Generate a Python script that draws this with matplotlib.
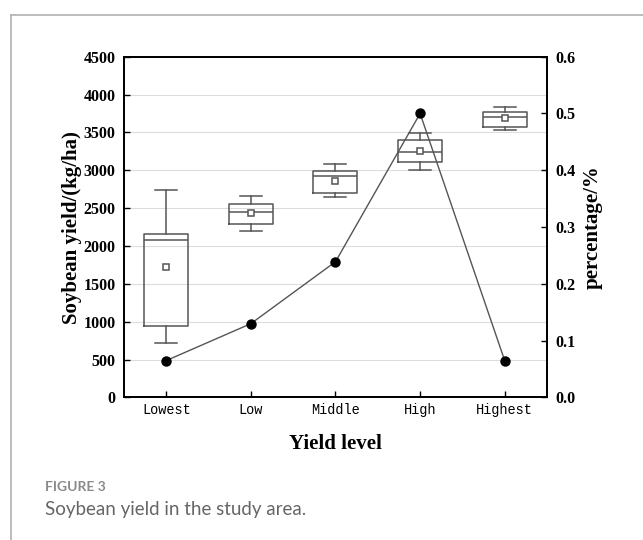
"""Soybean yield box plot with yield-level share line."""

import matplotlib
matplotlib.use("Agg")
import matplotlib.pyplot as plt
from matplotlib.lines import Line2D

# yield levels and box statistics (kg/ha)
levels = ["Lowest", "Low", "Middle", "High", "Highest"]
whisker_low = [715, 2205, 2650, 3010, 3535]
q1 = [950, 2290, 2700, 3105, 3575]
median = [2080, 2445, 2920, 3240, 3700]
q3 = [2155, 2560, 2995, 3395, 3775]
whisker_high = [2740, 2660, 3080, 3495, 3835]
mean = [1725, 2430, 2865, 3250, 3685]

# share of samples in each level
share = [0.065, 0.13, 0.239, 0.5, 0.065]

SERIF = "Liberation Serif"
BOX_COLOR = "#555555"

fig = plt.figure(figsize=(6.43, 5.4), dpi=100)
ax = fig.add_axes([0.1928, 0.2639, 0.6579, 0.6311])
ax2 = ax.twinx()

stats = []
for i, name in enumerate(levels):
    stats.append({
        "label": name, "whislo": whisker_low[i], "q1": q1[i], "med": median[i],
        "q3": q3[i], "whishi": whisker_high[i], "mean": mean[i], "fliers": [],
    })

x = list(range(1, len(levels) + 1))
line_kw = dict(color=BOX_COLOR, linewidth=1.1)
ax.bxp(stats, positions=x, widths=0.52, showmeans=True, patch_artist=False,
       boxprops=line_kw, whiskerprops=line_kw, capprops=line_kw,
       medianprops=line_kw,
       meanprops=dict(marker="s", markerfacecolor="white", markeredgecolor=BOX_COLOR,
                      markersize=4.5, markeredgewidth=1.1))

ax2.plot(x, share, color=BOX_COLOR, linewidth=1.0, marker="o", markersize=6.5,
         markerfacecolor="black", markeredgecolor="black", zorder=5)

ax.set_xlim(0.5, 5.5)
ax.set_ylim(0, 4500)
ax.set_yticks(range(0, 4501, 500))
ax2.set_ylim(0, 0.6)
ax2.set_yticks([0.0, 0.1, 0.2, 0.3, 0.4, 0.5, 0.6])
ax2.set_yticklabels([f"{v:.1f}" for v in ax2.get_yticks()])

ax.set_xticks(x)
ax.set_xticklabels(levels, fontfamily="Liberation Mono", fontsize=9.8)
ax.grid(axis="y", color="#dddddd", linewidth=0.8)
ax.set_axisbelow(True)

for a in (ax, ax2):
    for sp in a.spines.values():
        sp.set_linewidth(1.3)
        sp.set_color("black")
ax.tick_params(axis="x", direction="in", length=4, width=1, pad=4)
ax.tick_params(axis="y", direction="in", length=4, width=1, pad=6)
ax2.tick_params(axis="y", direction="in", length=4, width=1, pad=6)
for lab in ax.get_yticklabels() + ax2.get_yticklabels():
    lab.set_fontfamily(SERIF)
    lab.set_fontweight("bold")
    lab.set_fontsize(11.5)

ax.set_ylabel("Soybean yield/(kg/ha)", fontfamily=SERIF, fontweight="bold",
              fontsize=15, labelpad=1)
ax2.set_ylabel("percentage/%", fontfamily=SERIF, fontweight="bold",
               fontsize=15, labelpad=5)
ax.set_xlabel("Yield level", fontfamily=SERIF, fontweight="bold",
              fontsize=15, labelpad=12)

# caption and page frame
fig.text(45 / 643, 1 - 487 / 540, "FIGURE 3", fontfamily="Lato", fontweight="bold",
         fontsize=10, color="#8a8a8a", va="center")
fig.text(45 / 643, 1 - 510 / 540, "Soybean yield in the study area.", fontfamily="Lato",
         fontsize=13.5, color="#666666", va="center")
fig.add_artist(Line2D([11 / 643, 11 / 643], [0, 1 - 15 / 540],
                      transform=fig.transFigure, color="#b0b0b0", linewidth=1.2))
fig.add_artist(Line2D([11 / 643, 1], [1 - 15 / 540, 1 - 15 / 540],
                      transform=fig.transFigure, color="#b0b0b0", linewidth=1.2))

fig.savefig("out.png", dpi=100)
